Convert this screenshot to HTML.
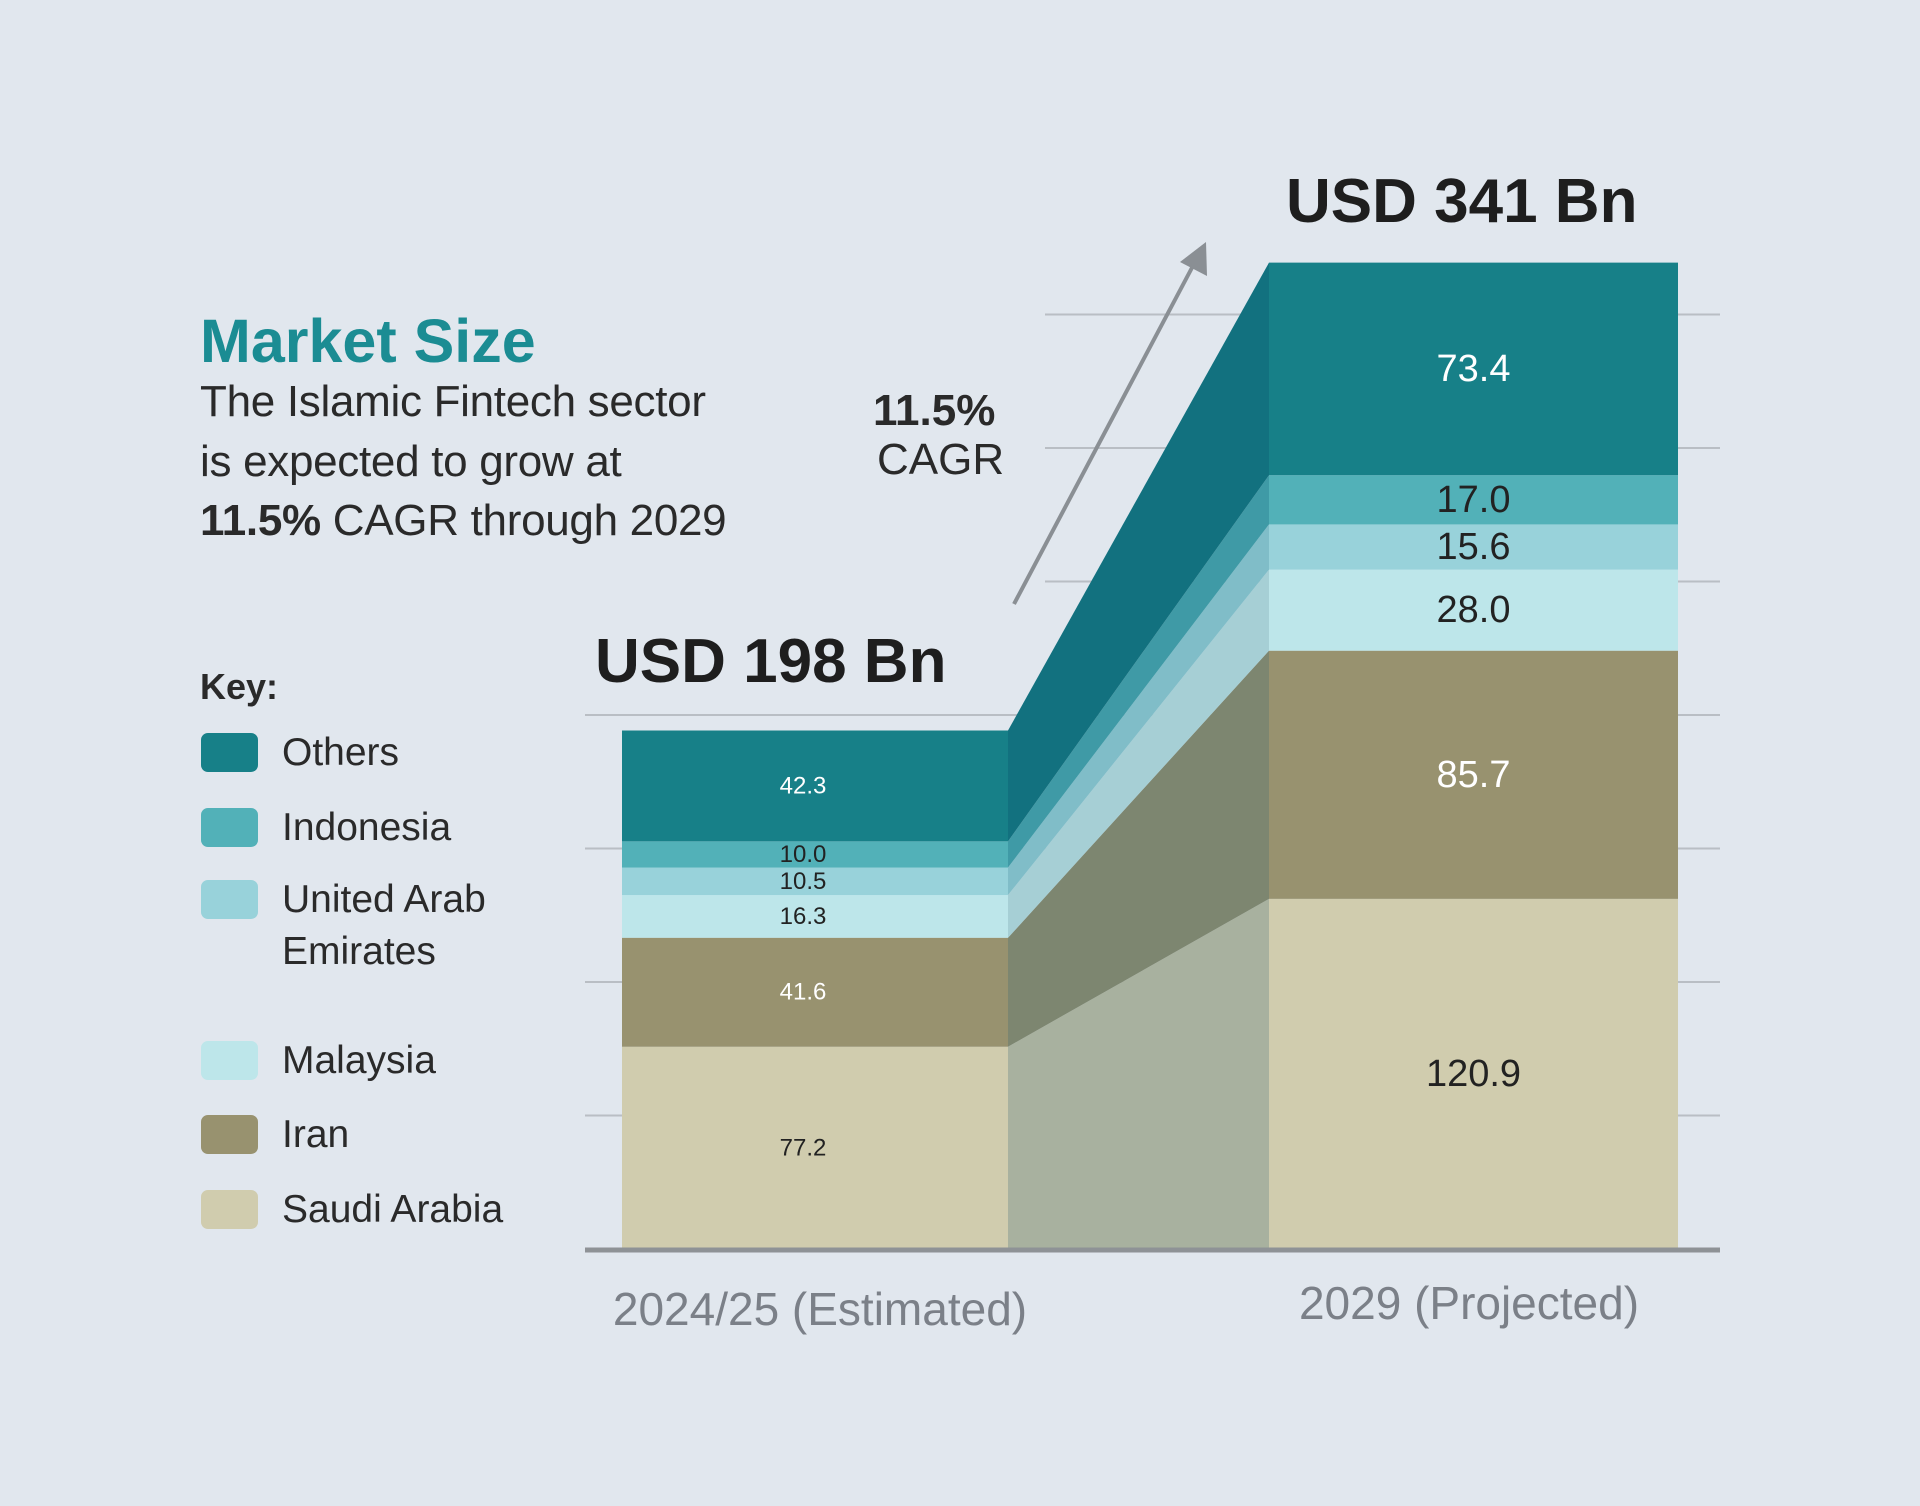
<!DOCTYPE html>
<html><head><meta charset="utf-8"><style>
html,body{margin:0;padding:0;background:#e1e7ee;}
svg{display:block;font-family:"Liberation Sans",sans-serif;}
</style></head><body>
<svg id="chart" width="1920" height="1506" viewBox="0 0 1920 1506" xmlns="http://www.w3.org/2000/svg">
<rect x="0" y="0" width="1920" height="1506" fill="#e1e7ee"/>
<g id="grid"></g>
<g id="connectors"></g>
<g id="bars"></g>
<g id="labels"></g>
<line x1="585" y1="1250" x2="1720" y2="1250" stroke="#8e9296" stroke-width="5"/>
<text x="200" y="362" font-size="61" font-weight="bold" fill="#1b8c93">Market Size</text>
<g font-size="44" fill="#2a2a2a" letter-spacing="-0.3">
<text x="200" y="416">The Islamic Fintech sector</text>
<text x="200" y="476">is expected to grow at</text>
<text x="200" y="535"><tspan font-weight="bold">11.5%</tspan> CAGR through 2029</text>
</g>
<text x="873" y="425" font-size="44" font-weight="bold" fill="#2a2a2a">11.5%</text>
<text x="877" y="474" font-size="44" fill="#2a2a2a">CAGR</text>
<line x1="1014" y1="604" x2="1195" y2="262" stroke="#8a8f94" stroke-width="4"/>
<polygon points="1206,242 1207,276 1180,262" fill="#8a8f94"/>
<text x="595" y="682" font-size="62" font-weight="bold" fill="#1e1e1e">USD 198 Bn</text>
<text x="1286" y="222" font-size="62" font-weight="bold" fill="#1e1e1e">USD 341 Bn</text>
<text x="820" y="1325" font-size="46" fill="#7b8088" text-anchor="middle">2024/25 (Estimated)</text>
<text x="1469" y="1319" font-size="46" fill="#7b8088" text-anchor="middle">2029 (Projected)</text>
<g id="legend">
<text x="200" y="699" font-size="36" font-weight="bold" fill="#2a2a2a">Key:</text>
</g>
</svg>
<script>
const categories = ["2024/25 (Estimated)", "2029 (Projected)"];
const seriesNames = ["Saudi Arabia", "Iran", "Malaysia", "United Arab Emirates", "Indonesia", "Others"];
const saudiArabia = [77.2, 120.9];
const iran = [41.6, 85.7];
const malaysia = [16.3, 28.0];
const uae = [10.5, 15.6];
const indonesia = [10.0, 17.0];
const others = [42.3, 73.4];
const valueLabels = [["77.2","120.9"],["41.6","85.7"],["16.3","28.0"],["10.5","15.6"],["10.0","17.0"],["42.3","73.4"]];

const series = [saudiArabia, iran, malaysia, uae, indonesia, others];
const fills = ["#d0ccae","#98926f","#bde6ea","#98d2da","#52b1b8","#178088"];
const connFills = ["#a8b19f","#7d8670","#a6cfd5","#80bdc8","#3f9aa6","#12717f"];
const textFill = ["#222","#fff","#222","#222","#222","#fff"];
const NS = "http://www.w3.org/2000/svg";
const baseY = 1249;
const barX = [[622,1008],[1269,1678]];
const labelOffset = [-12, 0];
const pxPerUnit = [2.62, 2.896];
const labelSize = [24, 38];
function y(col, v){ return baseY - v * pxPerUnit[col]; }
function mk(tag, attrs, parent){ const e=document.createElementNS(NS,tag); for(const k in attrs) e.setAttribute(k,attrs[k]); parent.appendChild(e); return e; }

const grid = document.getElementById('grid');
for(let k=1;k<=7;k++){
  const gy = baseY - k*133.5;
  const x1 = k>=5 ? 1045 : 585;
  const l = mk('line',{x1:x1,x2:1720,y1:gy,y2:gy,stroke:'#b9bec4','stroke-width':2},grid);
  
  
}

const bars = document.getElementById('bars');
const conns = document.getElementById('connectors');
const labels = document.getElementById('labels');
const cum = [0,0];
series.forEach((s,i)=>{
  const b0 = [cum[0], cum[1]];
  const t0 = [cum[0]+s[0], cum[1]+s[1]];
  const p = mk('polygon',{points:`${barX[0][1]},${y(0,b0[0])} ${barX[0][1]},${y(0,t0[0])} ${barX[1][0]},${y(1,t0[1])} ${barX[1][0]},${y(1,b0[1])}`,fill:connFills[i]},conns);
  
  
  for(let c=0;c<2;c++){
    const r = mk('rect',{x:barX[c][0],y:y(c,t0[c]),width:barX[c][1]-barX[c][0],height:s[c]*pxPerUnit[c],fill:fills[i]},bars);
    
    
    const t = mk('text',{x:(barX[c][0]+barX[c][1])/2+labelOffset[c],y:(y(c,t0[c])+y(c,b0[c]))/2,'font-size':labelSize[c],fill:textFill[i],'text-anchor':'middle','dominant-baseline':'central'},labels);
    
    
    t.textContent = valueLabels[i][c];
  }
  cum[0]=t0[0]; cum[1]=t0[1];
});

const legend = document.getElementById('legend');
const legendOrder = [5,4,3,2,1,0];
const legendY = [752,827,899,1060,1134,1209];
legendOrder.forEach((si,j)=>{
  const r = mk('rect',{x:201,y:legendY[j]-19,width:57,height:39,rx:7,fill:fills[si]},legend);
  
  
  const t = mk('text',{x:282,y:legendY[j]+13,'font-size':39,fill:'#2a2a2a'},legend);
  
  
  if(si===3){
    mk('tspan',{x:282},t).textContent='United Arab';
    mk('tspan',{x:282,dy:52},t).textContent='Emirates';
  } else t.textContent = seriesNames[si];
});
</script>
</body></html>
